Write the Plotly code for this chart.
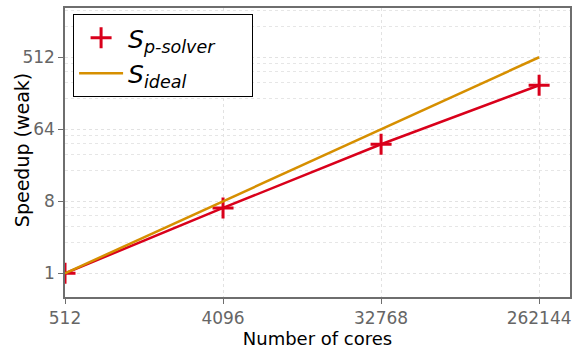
import plotly.graph_objects as go
import numpy as np

cores = [512, 4096, 32768, 262144]
speedup_psolver = [1, 6.6, 41.5, 228]
speedup_ideal = [1, 8, 64, 512]

x_ticks = [512, 4096, 32768, 262144]
x_tick_labels = ["512", "4096", "32768", "262144"]
y_ticks = [1, 8, 64, 512]
y_tick_labels = ["1", "8", "64", "512"]
minor_subs = [2.43, 3.86, 5.29, 6.71]

RED = "#d9001b"
ORANGE = "#d68f00"
GRAY = "#6e6e6e"

y_minor = [8 ** n * s for n in range(0, 4) for s in minor_subs]

fig = go.Figure()
fig.add_trace(go.Scatter(x=cores, y=speedup_psolver, mode="lines",
                         line=dict(color=RED, width=2.5), showlegend=False,
                         hoverinfo="skip"))
fig.add_trace(go.Scatter(x=cores, y=speedup_psolver, mode="markers",
                         marker=dict(symbol="cross-thin", size=15,
                                     line=dict(color=RED, width=3)),
                         name="<i>S</i><sub><i>p-solver</i></sub>&nbsp;&nbsp;&nbsp;&nbsp;"))
fig.add_trace(go.Scatter(x=cores, y=speedup_ideal, mode="lines",
                         line=dict(color=ORANGE, width=2.5),
                         name="<i>S</i><sub><i>ideal</i></sub>"))

axis_common = dict(
    showline=True, linecolor=GRAY, linewidth=1.5, mirror=True,
    ticks="outside", ticklen=5, tickwidth=1.2, tickcolor=GRAY,
    tickfont=dict(family="DejaVu Sans", size=17, color="#666666"),
    showgrid=True, gridcolor="#e2e2e2", griddash="dot", gridwidth=1,
    zeroline=False,
)

fig.update_xaxes(type="log", range=[np.log10(512), 5.595],
                 tickmode="array", tickvals=x_ticks, ticktext=x_tick_labels,
                 title=dict(text="Number of cores", standoff=4,
                            font=dict(family="DejaVu Sans", size=18, color="black")),
                 **axis_common)
fig.update_yaxes(type="log", range=[-0.297, 3.327],
                 tickmode="array", tickvals=y_ticks, ticktext=y_tick_labels,
                 minor=dict(tickmode="array", tickvals=y_minor, showgrid=True,
                            gridcolor="#e6e6e6", griddash="dot", ticks=""),
                 **axis_common)

fig.add_annotation(text="Speedup (weak)", xref="paper", yref="paper",
                   x=(22 - 65) / 507, y=(297 - 150) / 289,
                   xanchor="center", yanchor="middle", textangle=-90,
                   showarrow=False,
                   font=dict(family="DejaVu Sans", size=19, color="black"))

fig.update_layout(
    width=574, height=354,
    margin=dict(l=65, r=2, t=8, b=57),
    paper_bgcolor="white", plot_bgcolor="white",
    font=dict(family="DejaVu Sans"),
    legend=dict(x=0.016, y=0.979, xanchor="left", yanchor="top",
                bgcolor="white", bordercolor="black", borderwidth=1,
                font=dict(family="DejaVu Sans", size=25, color="black"),
                tracegroupgap=0, itemwidth=44),
)

fig.write_html("out.html")
